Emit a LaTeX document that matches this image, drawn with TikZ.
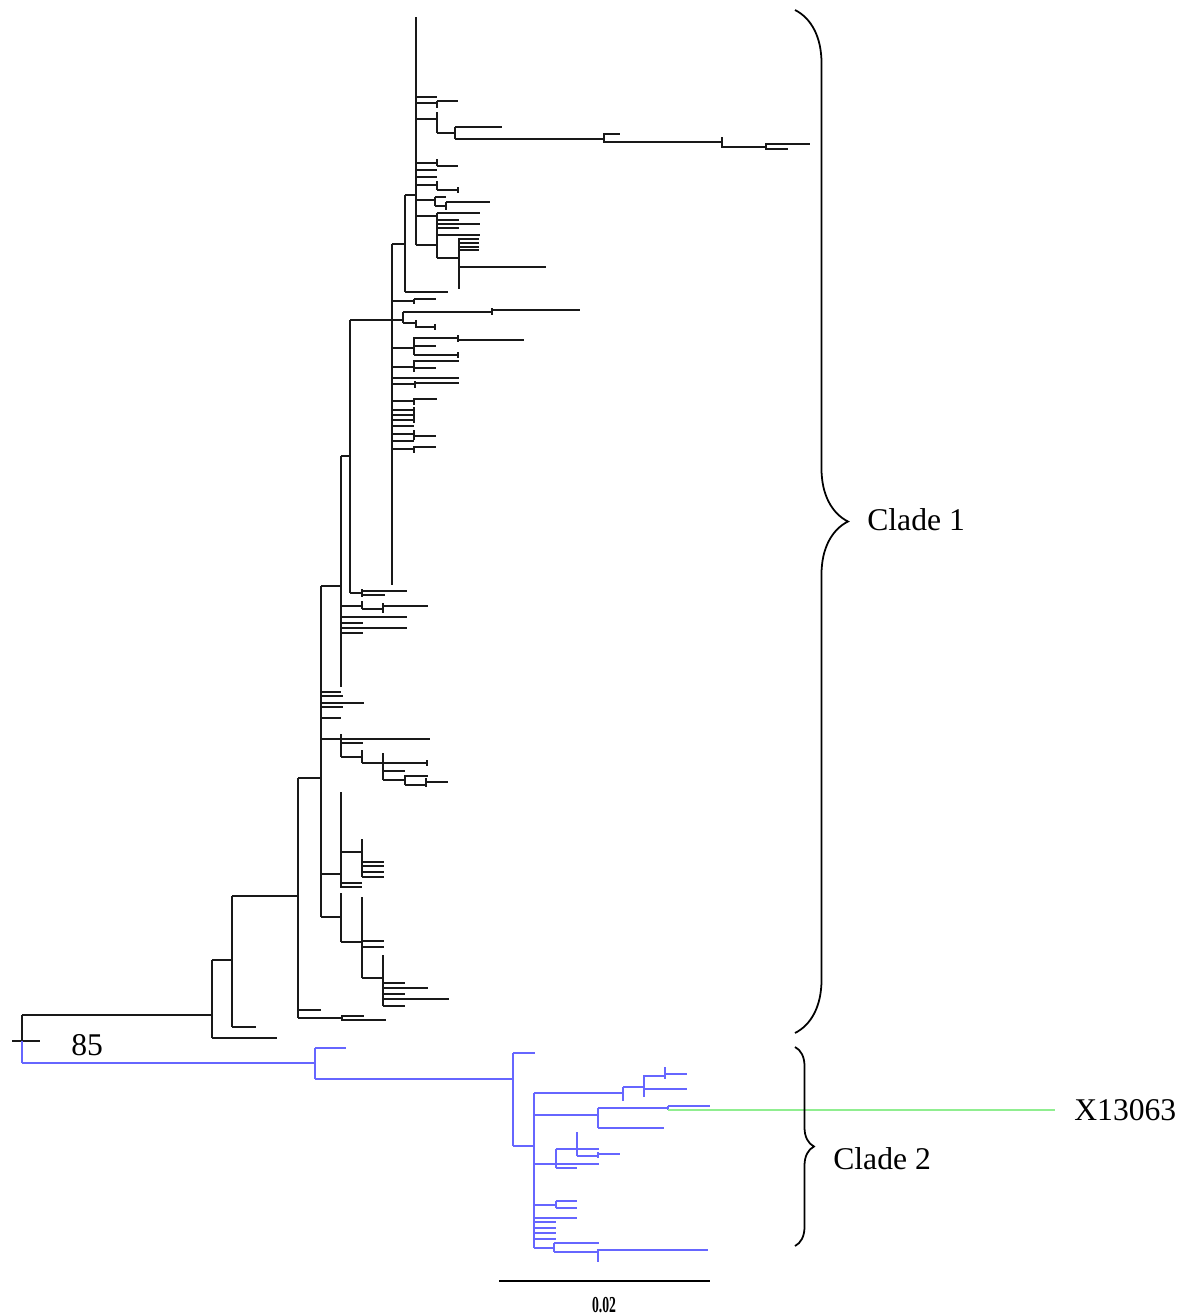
\documentclass[tikz,border=0pt]{standalone}
\usepackage{fontspec}
\setmainfont{Liberation Serif}
\usetikzlibrary{decorations.pathreplacing}
\definecolor{cladeBlue}{RGB}{102,102,255}
\definecolor{leafGreen}{RGB}{144,238,144}

\tikzset{
  branch/.style={line width=1.2pt, black!90},
  bluebranch/.style={line width=1.2pt, cladeBlue},
  clabel/.style={font=\fontsize{18}{20}\selectfont, anchor=west, inner sep=0pt},
  cladebrace/.style={decorate, decoration={brace, amplitude=#1}, line width=1pt},
}

\begin{document}
\begin{tikzpicture}[x=0.02cm,y=-0.02cm]
  \useasboundingbox (0,0) rectangle (1194,1315);

  % clade 1, horizontal branches (x from / y / x to)
  \foreach \xa/\yy/\xb in {12/1041/22, 22/1041/40, 22/1015/212,
      212/960/232, 212/1038/277, 232/896/298, 232/1027/256,
      298/778/321, 298/1010/321, 298/1018/342, 342/1016/364, 342/1020/386,
      321/586/341, 321/692/341, 321/696/343, 321/703/364, 321/707/343, 321/718/341,
      321/739/430, 321/874/341, 321/917/341,
      341/743/363, 341/757/362, 362/763/427, 383/771/405, 383/780/405,
      405/776/428, 405/785/426, 426/782/448,
      341/852/362, 362/862/384, 362/866/384, 362/872/384, 362/877/384,
      341/883/362, 341/887/362,
      341/942/362, 362/941/384, 362/947/384, 362/978/383, 383/983/405,
      383/988/428, 383/994/405, 383/999/449, 383/1006/405,
      341/456/350, 350/593/362, 362/591/407, 362/595/385,
      341/606/362, 362/609/383, 383/606/428,
      341/617/407, 341/623/363, 341/628/407, 341/633/363,
      350/320/403, 403/312/492, 492/310/580, 403/323/416, 416/327/435,
      392/244/405, 405/195/416, 405/292/448,
      392/301/414, 414/299/436,
      392/348/414, 414/338/458, 458/340/524, 414/346/436, 414/355/458,
      392/367/414, 414/361/459, 414/368/436, 392/378/459,
      392/384/415, 415/383/459, 392/401/414, 414/399/437,
      392/410/414, 392/415/414, 392/420/414, 392/426/414,
      392/434/414, 414/436/436, 392/441/414, 392/449/414, 414/447/436,
      416/97/437, 416/103/437, 437/101/458,
      416/119/437, 437/133/455, 455/127/502, 455/139/604, 604/134/620,
      604/142/722, 722/147/766, 766/144/810, 766/149/788,
      416/163/437, 437/166/458, 416/170/437, 416/177/437,
      416/185/437, 437/190/458,
      416/200/435, 435/197/446, 435/206/446, 446/202/490,
      416/216/437, 416/245/437, 437/213/480, 437/220/459, 437/224/480,
      437/228/459, 437/235/480, 437/258/459,
      459/239/479, 459/243/479, 459/247/479, 459/250/479, 459/267/546}
    \draw[branch] (\xa,\yy) -- (\xb,\yy);

  % clade 1, vertical joins (x / y from / y to)
  \foreach \xx/\ya/\yb in {22/1015/1041, 212/960/1038, 232/896/1027, 298/778/1018,
      321/586/917, 342/1015/1021,
      341/734/757, 362/750/763, 383/753/780, 405/775/785, 427/760/766, 426/778/787,
      341/792/888, 362/839/877, 341/893/942, 362/897/978, 383/955/1006,
      341/456/687, 350/320/593, 362/589/597, 362/601/609, 383/603/613,
      392/244/585, 403/312/323, 492/308/315, 416/320/328, 435/324/330,
      405/195/292, 414/299/304, 414/337/355, 458/335/342, 458/352/358,
      414/360/372, 415/381/388, 414/398/405,
      414/407/413, 414/412/418, 414/417/423, 414/430/440, 414/446/453,
      416/17/245, 437/101/108, 437/112/133, 455/127/139, 604/133/143,
      722/137/148, 766/143/150,
      437/159/166, 437/181/190, 458/187/193, 435/197/206, 446/202/210,
      437/213/258, 459/238/289}
    \draw[branch] (\xx,\ya) -- (\xx,\yb);

  % clade 2
  \foreach \xa/\yy/\xb in {22/1063/315, 315/1048/346, 315/1079/513, 513/1053/535,
      513/1146/534,
      534/1093/623, 623/1087/644, 644/1076/665, 665/1074/687, 644/1089/687,
      534/1115/598, 598/1108/668, 668/1106/710, 598/1128/664,
      534/1164/599, 556/1149/599, 577/1156/598, 598/1154/620, 556/1168/577,
      534/1205/556, 556/1201/577, 556/1208/577,
      534/1218/577, 534/1222/556, 534/1228/556, 534/1233/556, 534/1239/556,
      534/1248/554, 554/1243/599, 554/1252/598, 598/1250/708}
    \draw[bluebranch] (\xa,\yy) -- (\xb,\yy);
  \foreach \xx/\ya/\yb in {22/1041/1063, 315/1048/1079, 513/1053/1146, 534/1093/1248,
      623/1087/1101, 644/1075/1097, 665/1067/1079, 598/1108/1128, 668/1106/1110,
      556/1149/1168, 577/1132/1156, 598/1152/1158, 556/1201/1208,
      554/1243/1252, 598/1249/1262}
    \draw[bluebranch] (\xx,\ya) -- (\xx,\yb);

  % X13063
  \coordinate (xfork) at (668,1110);
  \node[clabel] (xlbl) at (1074,1110) {X13063};
  \draw[line width=1.2pt, leafGreen] (xfork) -- (1055,1110);

  % braces and labels
  \draw[cladebrace=1.06cm] (795,10) -- (795,1033);
  \draw[cladebrace=0.38cm] (795,1047) -- (795,1246);
  \node[clabel] (cladeone) at (867,520) {Clade 1};
  \node[clabel] (cladetwo) at (833,1159) {Clade 2};
  \node[clabel] (boot) at (71,1045) {85};

  % scale bar
  \draw[line width=1.2pt] (499,1281) -- (710,1281);
  \node[font=\fontsize{13}{13}\selectfont\bfseries, xscale=0.6, inner sep=0pt] (scalelbl) at (604,1305) {0.02};
\end{tikzpicture}
\end{document}
